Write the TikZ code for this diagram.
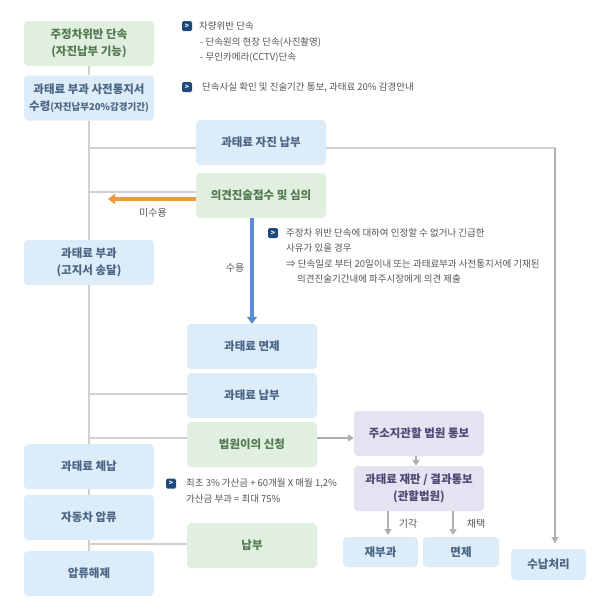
\documentclass[tikz,border=0pt]{standalone}
\usepackage{fontspec}
\setmainfont{Noto Sans CJK KR}
\usetikzlibrary{arrows.meta}
\definecolor{boxblue}{HTML}{DCECF9}
\definecolor{boxgreen}{HTML}{E0EFDF}
\definecolor{boxpurple}{HTML}{E5E3F1}
\definecolor{txtblue}{HTML}{4B6584}
\definecolor{txtgreen}{HTML}{527A50}
\definecolor{txtpurple}{HTML}{4C4A74}
\definecolor{linegray}{HTML}{D0D0D0}
\definecolor{tipgray}{HTML}{B0B0B0}
\definecolor{notegray}{HTML}{555555}
\definecolor{iconnavy}{HTML}{1F4A7D}
\definecolor{arroworange}{HTML}{EE9A3C}
\definecolor{arrowblue}{HTML}{5A8DD8}

\begin{document}
\begin{tikzpicture}[x=1pt,y=-1pt,
		every node/.style={inner sep=0pt},
		bluebox/.style={fill=boxblue,rounded corners=4pt,minimum width=130pt,minimum height=45pt,
			align=center,text=txtblue,font=\fontsize{11.5}{16.5}\selectfont\bfseries},
		greenbox/.style={bluebox,fill=boxgreen,text=txtgreen},
		purplebox/.style={bluebox,fill=boxpurple,text=txtpurple},
		smallbox/.style={bluebox,minimum width=75pt,minimum height=30pt},
		link/.style={draw=linegray,line width=1.5pt},
		grayarrow/.style={draw=tipgray,line width=1.5pt,-{Triangle[width=7pt,length=6pt]}},
		icon/.style={fill=iconnavy,rounded corners=1.5pt,minimum size=10pt,text=white,font=\fontsize{7}{7}\selectfont\bfseries},
		note/.style={anchor=west,align=left,text=notegray,font=\fontsize{9.5}{15.5}\selectfont},
		tag/.style={text=notegray,font=\fontsize{10}{12}\selectfont}]
	\useasboundingbox[fill=white] (0,0) rectangle (595,614);
	% left column
	\node[greenbox] (detect) at (89,43.5) {주정차위반 단속\\(자진납부 기능)};
	\node[bluebox] (notice) at (89,98) {과태료 부과 사전통지서\\수령{\fontsize{9.5}{16.5}\selectfont(자진납부20\%감경기간)}};
	\node[bluebox] (impose) at (89,262.5) {과태료 부과\\(고지서 송달)};
	\node[bluebox] (arrears) at (89,466.5) {과태료 체납};
	\node[bluebox] (seize) at (89,517.5) {자동차 압류};
	\node[bluebox] (release) at (89,573.5) {압류해제};
	% middle column
	\node[bluebox] (selfpay) at (261,142.5) {과태료 자진 납부};
	\node[greenbox] (opinion) at (261,195.5) {의견진술접수 및 심의};
	\node[bluebox] (exempt) at (252,346.5) {과태료 면제};
	\node[bluebox] (pay) at (252,395.5) {과태료 납부};
	\node[greenbox] (objection) at (252,444.5) {법원이의 신청};
	\node[greenbox] (paid) at (252,545.5) {납부};
	% right column
	\node[purplebox] (court) at (419,433.5) {주소지관할 법원 통보};
	\node[purplebox] (trial) at (419,488.5) {과태료 재판 / 결과통보\\(관할법원)};
	\node[smallbox] (reimpose) at (380.5,552) {재부과};
	\node[smallbox,minimum width=76pt] (waive) at (461,552) {면제};
	\node[smallbox,minimum height=31pt] (settle) at (548.5,564.5) {수납처리};
	% trunk
	\draw[link] (detect) -- (notice);
	\draw[link] (notice) -- (impose);
	\draw[link] (impose) -- (arrears);
	\draw[link] (arrears) -- (seize);
	\draw[link] (seize) -- (release);
	\coordinate (j1) at (90,148);
	\coordinate (j2) at (90,192);
	\coordinate (j3) at (90,394);
	\coordinate (j4) at (90,438);
	\coordinate (j5) at (90,544);
	\coordinate (k1) at (555,148);
	\coordinate (k2) at (555,543);
	\draw[link] (j1) -- (j1 -| selfpay.west);
	\draw[link] (j2) -- (j2 -| opinion.west);
	\draw[link] (j3) -- (j3 -| pay.west);
	\draw[link] (j4) -- (j4 -| objection.west);
	\draw[link] (j5) -- (j5 -| paid.west);
	\draw[link] (k1 -| selfpay.east) -- (k1) -- (k2);
	\draw[grayarrow] (k1) -- (k2);
	\draw[grayarrow] (j4 -| objection.east) -- (j4 -| court.west);
	\draw[grayarrow] (court.south -| 416,0) -- (trial.north -| 416,0);
	\coordinate (r1) at (388,535);
	\coordinate (r2) at (453,535);
	\draw[grayarrow] (trial.south -| r1) -- (r1);
	\draw[grayarrow] (trial.south -| r2) -- (r2);
	\node[tag] (reject) at (408,524) {기각};
	\node[tag] (adopt) at (476,524) {채택};
	% decisions
	\coordinate (refuse) at (108,199);
	\draw[arroworange,line width=4pt,-{Triangle[width=10pt,length=7pt]}] (refuse -| opinion.west) -- (refuse);
	\node[tag] (refusetag) at (153,213) {미수용};
	\draw[arrowblue,line width=4pt,-{Triangle[width=10pt,length=7pt]}] (exempt.north |- opinion.south) -- (exempt.north);
	\node[tag] (accepttag) at (235,268) {수용};
	% notes
	\node[icon] (i1) at (187,26) {>};
	\node[note] (n1) at (199,42) {차량위반 단속\\\hspace*{1pt}- 단속원의 현장 단속(사진촬영)\\\hspace*{1pt}- 무인카메라(CCTV)단속};
	\node[icon] (i2) at (187,87) {>};
	\node[note] (n2) at (202,87) {단속사실 확인 및 진술기간 통보, 과태료 20\% 감경안내};
	\node[icon] (i3) at (273,233) {>};
	\node[note] (n3) at (286,256) {주정차 위반 단속에 대하여 인정할 수 없거나 긴급한\\사유가 있을 경우\\⇒ 단속일로 부터 20일이내 또는 과태료부과 사전통지서에 기재된\\\hspace*{11pt}의견진술기간내에 파주시장에게 의견 제출};
	\node[icon] (i4) at (171,483.5) {>};
	\node[note] (n4) at (186,491) {최초 3\% 가산금 + 60개월 X 매월 1,2\%\\가산금 부과 = 최대 75\%};
\end{tikzpicture}
\end{document}
